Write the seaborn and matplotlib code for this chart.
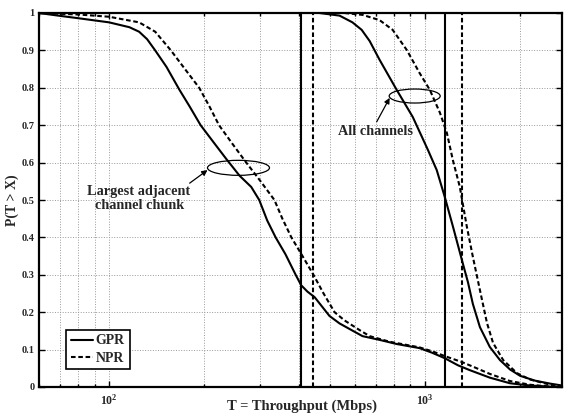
import matplotlib
matplotlib.use("Agg")
import matplotlib.pyplot as plt
from matplotlib.patches import Ellipse
from matplotlib.ticker import FixedLocator, FixedFormatter, LogLocator, NullFormatter
import seaborn as sns
import pandas as pd

# Complementary CDFs of throughput (Mbps): largest adjacent channel chunk
chunk_gpr_x = [60, 69, 80, 100, 116, 124.5, 132, 140, 152, 167, 180, 195, 214, 235, 259,
               282, 299, 317, 337, 362, 390, 406, 425, 448, 499, 537, 578, 635, 719, 814,
               962, 1052, 1157, 1274, 1389, 1607, 1861, 2154, 2496]
chunk_gpr_p = [1.0, 0.993, 0.986, 0.975, 0.962, 0.95, 0.93, 0.90, 0.856, 0.795, 0.75,
               0.70, 0.655, 0.61, 0.565, 0.535, 0.50, 0.445, 0.40, 0.355, 0.30, 0.272,
               0.255, 0.240, 0.19, 0.170, 0.155, 0.136, 0.126, 0.115, 0.104, 0.092,
               0.077, 0.058, 0.045, 0.025, 0.010, 0.004, 0.001]

chunk_npr_x = [60, 80, 100, 124.5, 140, 157, 174, 193, 208, 223, 246, 272, 302, 334, 354,
               378, 410, 444, 478, 518, 557, 622, 669, 774, 962, 1059, 1163, 1308, 1443,
               1607, 1861, 2154, 2496]
chunk_npr_p = [1.0, 0.996, 0.99, 0.975, 0.95, 0.90, 0.85, 0.80, 0.75, 0.70, 0.65, 0.60,
               0.55, 0.50, 0.45, 0.40, 0.35, 0.30, 0.25, 0.20, 0.178, 0.152, 0.136, 0.121,
               0.106, 0.095, 0.082, 0.067, 0.052, 0.035, 0.016, 0.006, 0.001]

# Complementary CDFs of throughput (Mbps): all channels
all_gpr_x = [464, 537, 590, 631, 669, 719, 814, 916, 1023, 1091, 1157, 1227, 1320, 1370,
             1420, 1495, 1607, 1730, 1861, 2003, 2233, 2496, 2720]
all_gpr_p = [1.0, 0.993, 0.975, 0.955, 0.925, 0.875, 0.795, 0.722, 0.634, 0.58, 0.508,
             0.43, 0.33, 0.28, 0.222, 0.160, 0.107, 0.072, 0.047, 0.030, 0.017, 0.009, 0.004]

all_npr_x = [557, 635, 719, 791, 877, 962, 1038, 1117, 1175, 1227, 1291, 1358, 1420,
             1495, 1574, 1645, 1771, 1959, 2154, 2496, 2720]
all_npr_p = [1.0, 0.995, 0.981, 0.955, 0.901, 0.84, 0.794, 0.733, 0.679, 0.607, 0.535,
             0.43, 0.348, 0.259, 0.171, 0.118, 0.072, 0.037, 0.02, 0.006, 0.002]

# Reference throughput markers (vertical lines)
gpr_marks = [406, 1163]
npr_marks = [444, 1308]

y_ticks = [0, 0.1, 0.2, 0.3, 0.4, 0.5, 0.6, 0.7, 0.8, 0.9, 1]
y_tick_labels = ["0", "0.1", "0.2", "0.3", "0.4", "0.5", "0.6", "0.7", "0.8", "0.9", "1"]
x_ticks = [100, 1000]
x_tick_labels = [r"$\mathregular{10^{2}}$", r"$\mathregular{10^{3}}$"]

sns.set_style("ticks")
plt.rcParams["font.family"] = ["Liberation Serif", "DejaVu Serif"]
plt.rcParams["font.weight"] = "bold"
plt.rcParams["mathtext.fontset"] = "custom"
plt.rcParams["mathtext.rm"] = "Liberation Serif:bold"
plt.rcParams["mathtext.bf"] = "Liberation Serif:bold"
plt.rcParams["mathtext.it"] = "Liberation Serif:bold:italic"

fig = plt.figure(figsize=(5.66, 4.13), dpi=100)
ax = fig.add_axes([39 / 566, 26 / 413, 523 / 566, 374 / 413])

solid = "-"
dashed = (0, (2.2, 1.3))
lw = 1.5

series = [
    (chunk_gpr_x, chunk_gpr_p, solid, "GPR"),
    (chunk_npr_x, chunk_npr_p, dashed, "NPR"),
    (all_gpr_x, all_gpr_p, solid, None),
    (all_npr_x, all_npr_p, dashed, None),
]
for xs, ps, ls, lab in series:
    df = pd.DataFrame({"T": xs, "P": ps})
    sns.lineplot(data=df, x="T", y="P", ax=ax, color="black", linewidth=lw,
                 linestyle=ls, sort=False, label=lab, estimator=None)

for v in gpr_marks:
    ax.axvline(v, color="black", linewidth=lw, linestyle=solid)
for v in npr_marks:
    ax.axvline(v, color="black", linewidth=lw, linestyle=dashed)

ax.set_xscale("log")
ax.set_xlim(60, 2720)
ax.set_ylim(0, 1)

ax.xaxis.set_major_locator(FixedLocator(x_ticks))
ax.xaxis.set_major_formatter(FixedFormatter(x_tick_labels))
ax.xaxis.set_minor_locator(LogLocator(base=10, subs=[2, 3, 4, 5, 6, 7, 8, 9], numticks=20))
ax.xaxis.set_minor_formatter(NullFormatter())
ax.yaxis.set_major_locator(FixedLocator(y_ticks))
ax.yaxis.set_major_formatter(FixedFormatter(y_tick_labels))

ax.tick_params(which="both", direction="in", top=True, right=True, width=1.0, color="black")
ax.tick_params(which="major", length=4)
ax.tick_params(which="minor", length=2.5)
ax.tick_params(axis="y", labelsize=7.5, pad=3)
ax.tick_params(axis="x", labelsize=8.5, pad=4)
for lbl in ax.get_yticklabels():
    lbl.set_fontweight("bold")

ax.grid(True, which="major", axis="both", linestyle=":", linewidth=0.7, color="0.6")
ax.grid(True, which="minor", axis="x", linestyle=":", linewidth=0.7, color="0.6")
ax.set_axisbelow(True)

for sp in ax.spines.values():
    sp.set_visible(True)
    sp.set_linewidth(1.6)
    sp.set_color("black")

ax.set_xlabel("T = Throughput (Mbps)", fontsize=10.5, fontweight="bold", labelpad=0)
ax.set_ylabel("P(T > X)", fontsize=10, fontweight="bold", labelpad=2)
ax.xaxis.set_label_coords(0.503, -0.033)

leg = ax.legend(loc="lower left", bbox_to_anchor=(0.051, 0.047), frameon=True,
                fancybox=False, edgecolor="black", framealpha=1,
                prop={"family": "Liberation Serif", "weight": "bold", "size": 10},
                handlelength=1.6, handletextpad=0.2, borderpad=0.35, labelspacing=0.3,
                borderaxespad=0)
leg.get_frame().set_linewidth(1.2)

# Annotation ellipses (centres in data coordinates, sizes in axes fraction)
to_axes = ax.transData + ax.transAxes.inverted()
for (cx, cy), w, h in [((257, 0.586), 62 / 523, 15 / 374),
                       ((929, 0.778), 51 / 523, 14 / 374)]:
    ax_c = to_axes.transform((cx, cy))
    ax.add_patch(Ellipse(ax_c, w, h, transform=ax.transAxes, fill=False,
                         edgecolor="black", linewidth=0.9))

arrow = dict(arrowstyle="-|>", color="black", linewidth=0.9, mutation_scale=8,
             shrinkA=0, shrinkB=0)
ax.annotate("", xy=(205, 0.580), xytext=(180, 0.545), arrowprops=arrow)
ax.annotate("", xy=(774, 0.773), xytext=(704, 0.709), arrowprops=arrow)

ax.text(124.5, 0.503, "Largest adjacent\nchannel chunk", ha="center", va="center",
        fontsize=10.3, fontweight="bold", linespacing=1.1)
ax.text(698, 0.682, "All channels", ha="center", va="center",
        fontsize=10.3, fontweight="bold")

fig.savefig("out.png", dpi=100)
